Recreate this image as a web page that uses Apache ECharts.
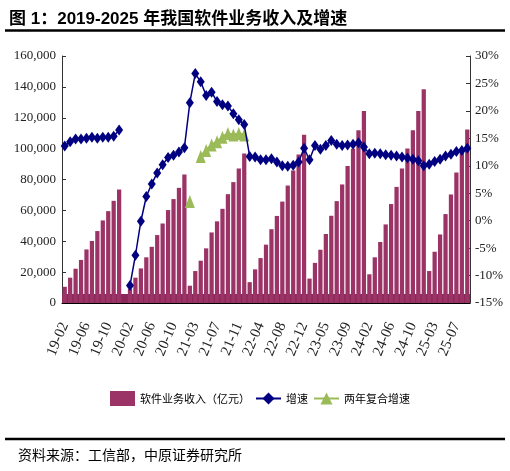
<!DOCTYPE html>
<html>
<head>
<meta charset="utf-8">
<script src="https://cdn.jsdelivr.net/npm/echarts@6/dist/echarts.min.js"></script>
<style>
  html, body { margin: 0; padding: 0; background: #fff; }
  #main { width: 510px; height: 471px; }
</style>
</head>
<body>
<div id="main"></div>
<script>
// 月份（1月不单独公布，20-01 为空位）
var months = [
  '19-02','19-03','19-04','19-05','19-06','19-07','19-08','19-09','19-10','19-11','19-12',
  '20-01','20-02','20-03','20-04','20-05','20-06','20-07','20-08','20-09','20-10','20-11','20-12',
  '21-02','21-03','21-04','21-05','21-06','21-07','21-08','21-09','21-10','21-11','21-12',
  '22-02','22-03','22-04','22-05','22-06','22-07','22-08','22-09','22-10','22-11','22-12',
  '23-02','23-03','23-04','23-05','23-06','23-07','23-08','23-09','23-10','23-11','23-12',
  '24-02','24-03','24-04','24-05','24-06','24-07','24-08','24-09','24-10','24-11','24-12',
  '25-02','25-03','25-04','25-05','25-06','25-07','25-08','25-09'
];

// 软件业务收入（亿元，累计）
var revenue = [
  10500, 16400, 22200, 27900, 34700, 40200, 46600, 53500, 59500, 66200, 73500,
  null, 9300, 16400, 22400, 29600, 36400, 44000, 51500, 60200, 67300, 74600, 83300,
  11200, 20700, 27400, 35400, 45700, 52900, 61000, 70500, 78300, 87100, 96900,
  13500, 21800, 29100, 37800, 47800, 56400, 65700, 76100, 85800, 96200, 109000,
  15800, 26000, 34500, 44700, 56500, 66000, 76800, 88800, 100000, 111900, 124400,
  18600, 29600, 39500, 50900, 64100, 75200, 87100, 100100, 111900, 124400, 138500,
  20700, 33200, 44400, 57600, 70300, 84600, 97500, 112400
];

// 增速（%）
var growth = [
  13.6, 14.4, 14.9, 14.9, 15.0, 15.2, 15.0, 15.2, 15.2, 15.4, 16.5,
  null, -11.8, -6.3, -0.1, 4.4, 6.7, 8.7, 10.2, 11.5, 11.9, 12.5, 13.3,
  21.5, 26.8, 25.3, 22.8, 23.4, 21.7, 21.1, 20.9, 19.5, 18.4, 17.5,
  11.7, 11.6, 11.1, 11.1, 11.3, 10.7, 10.0, 9.9, 10.1, 10.7, 13.2,
  11.1, 13.7, 13.0, 13.7, 14.6, 13.9, 13.7, 13.8, 13.9, 14.2, 13.4,
  12.2, 12.3, 12.2, 12.0, 11.9, 11.8, 11.6, 11.4, 11.2, 10.9, 10.0,
  10.3, 10.8, 11.2, 11.8, 12.1, 12.6, 12.8, 13.2
];

// 两年复合增速（%），只有 2021 年
var twoYearGrowth = [
  null, null, null, null, null, null, null, null, null, null, null,
  null, null, null, null, null, null, null, null, null, null, null, null,
  3.5, null, 11.7, 12.8, 13.8, 14.4, 15.2, 15.9, 15.6, 15.9, 15.6,
  null, null, null, null, null, null, null, null, null, null, null,
  null, null, null, null, null, null, null, null, null, null, null,
  null, null, null, null, null, null, null, null, null, null, null,
  null, null, null, null, null, null, null, null
];

var leftTicks = { min: 0, max: 160000, step: 20000 };
var rightTicks = { min: -15, max: 30, step: 5 };

var serif = "'Liberation Serif', 'Times New Roman', serif";
var cjk = "'Noto Sans CJK SC', sans-serif";

var myChart = echarts.init(document.getElementById('main'));
myChart.setOption({
    animation: false,
    title: {
        text: '图 1：2019-2025 年我国软件业务收入及增速',
        left: 4,
        top: 6,
        textStyle: {
            fontSize: 17,
            fontWeight: 'bold',
            color: '#000',
            fontFamily: "'Liberation Sans', 'Noto Sans CJK SC', sans-serif"
        }
    },
    graphic: [
        { type: 'line', shape: { x1: 5, y1: 30.5, x2: 505, y2: 30.5 }, style: { stroke: '#000', lineWidth: 2.5 } },
        { type: 'line', shape: { x1: 5, y1: 439, x2: 505, y2: 439 }, style: { stroke: '#000', lineWidth: 2.5 } },
        {
            type: 'text', left: 18, top: 448,
            style: { text: '资料来源：工信部，中原证券研究所', fontSize: 14, fill: '#000', fontFamily: cjk }
        }
    ],
    legend: {
        left: 105,
        top: 386,
        itemWidth: 25,
        itemHeight: 15,
        itemGap: 5,
        textStyle: { fontSize: 11, color: '#000', fontFamily: cjk },
        data: [
            { name: '软件业务收入（亿元）', icon: 'rect' },
            { name: '增速' },
            { name: '两年复合增速' }
        ]
    },
    grid: {
        left: 62,
        right: 40,
        top: 56,
        bottom: 168,
        outerBoundsMode: 'none'
    },
    xAxis: {
        type: 'category',
        data: months,
        z: 5,
        axisLine: { lineStyle: { color: '#000', width: 1 } },
        axisTick: {
            inside: true,
            length: 9,
            interval: 0,
            lineStyle: { color: '#3d1028', width: 1 }
        },
        axisLabel: {
            interval: 3,
            rotate: 67,
            margin: 20,
            fontSize: 15,
            color: '#222',
            fontFamily: serif
        },
        splitLine: { show: false }
    },
    yAxis: [
        {
            type: 'value',
            min: leftTicks.min,
            max: leftTicks.max,
            interval: leftTicks.step,
            axisLine: { show: true, lineStyle: { color: '#333' } },
            axisTick: { show: true, inside: true, length: 4, lineStyle: { color: '#333' } },
            axisLabel: {
                margin: 6,
                fontSize: 13,
                color: '#222',
                fontFamily: serif,
                formatter: function (v) { return v.toLocaleString('en-US'); }
            },
            splitLine: { show: false }
        },
        {
            type: 'value',
            min: rightTicks.min,
            max: rightTicks.max,
            interval: rightTicks.step,
            axisLine: { show: true, lineStyle: { color: '#333' } },
            axisTick: { show: true, inside: true, length: 4, lineStyle: { color: '#333' } },
            axisLabel: {
                margin: 5,
                fontSize: 13,
                color: '#222',
                fontFamily: serif,
                formatter: '{value}%'
            },
            splitLine: { show: false }
        }
    ],
    series: [
        {
            name: '软件业务收入（亿元）',
            type: 'bar',
            data: revenue,
            barCategoryGap: '22%',
            itemStyle: { color: '#9b3366' },
            markArea: {
                silent: true,
                itemStyle: { color: '#8a2957', opacity: 1 },
                data: [[{ yAxis: 0 }, { yAxis: 5800 }]]
            }
        },
        {
            name: '增速',
            type: 'line',
            yAxisIndex: 1,
            data: growth,
            connectNulls: false,
            showSymbol: true,
            showAllSymbol: true,
            symbol: 'diamond',
            symbolSize: [8, 11],
            itemStyle: { color: '#000080' },
            lineStyle: { color: '#000080', width: 1.5 },
            z: 4
        },
        {
            name: '两年复合增速',
            type: 'line',
            yAxisIndex: 1,
            data: twoYearGrowth,
            connectNulls: false,
            showSymbol: true,
            showAllSymbol: true,
            symbol: 'triangle',
            symbolSize: [10, 13],
            itemStyle: { color: '#9bbb59' },
            lineStyle: { color: '#9bbb59', width: 2.5 },
            z: 3
        }
    ]
});
</script>
</body>
</html>
